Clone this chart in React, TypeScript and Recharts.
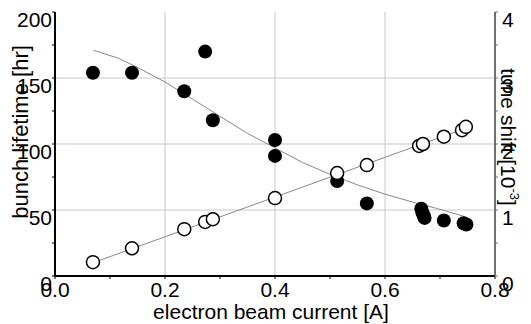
import {
  ComposedChart,
  Scatter,
  Line,
  XAxis,
  YAxis,
  ReferenceLine,
} from 'recharts';

// bunch lifetime measurements (filled circles, left axis)
const lifeCurrent = [0.069, 0.14, 0.235, 0.273, 0.287, 0.4, 0.4, 0.513, 0.567, 0.666, 0.668, 0.67, 0.672, 0.707, 0.743, 0.748];
const lifeHours = [154, 154, 140, 170, 118, 103, 91, 72, 55, 51, 48, 46, 44, 42, 40, 39];

// tune shift measurements (open circles, right axis)
const tuneCurrent = [0.069, 0.14, 0.235, 0.273, 0.287, 0.4, 0.513, 0.567, 0.662, 0.669, 0.707, 0.74, 0.747];
const tuneShift = [0.21, 0.42, 0.71, 0.82, 0.86, 1.18, 1.56, 1.68, 1.97, 2.0, 2.11, 2.21, 2.26];

// fitted curves
const fitLifeCurrent = [0.07, 0.115, 0.15, 0.2, 0.25, 0.3, 0.35, 0.4, 0.45, 0.5, 0.55, 0.6, 0.65, 0.7, 0.745];
const fitLifeHours = [171, 165, 158, 147, 134, 121, 108, 97, 86, 77, 69, 62, 56, 50.5, 45];
const fitTuneCurrent = [0.069, 0.75];
const fitTuneShift = [0.2, 2.25];

const xTicks = [0, 0.1, 0.2, 0.3, 0.4, 0.5, 0.6, 0.7, 0.8];
const xLabels = ['0.0', '', '0.2', '', '0.4', '', '0.6', '', '0.8'];
const lifeTicks = [0, 25, 50, 75, 100, 125, 150, 175, 200];
const lifeLabels = ['0', '', '50', '', '100', '', '150', '', '200'];
const tuneTicks = [0, 0.5, 1, 1.5, 2, 2.5, 3, 3.5, 4];
const tuneLabels = ['0', '', '1', '', '2', '', '3', '', '4'];
const gridX = [0.2, 0.4, 0.6];
const gridY = [50, 100, 150];

const FONT = '"Liberation Sans", Arial, sans-serif';

const zip = (xs: number[], ys: number[]) => xs.map((x, i) => ({ x, y: ys[i] }));

const lifeData = zip(lifeCurrent, lifeHours);
const tuneData = zip(tuneCurrent, tuneShift);
const fitLife = zip(fitLifeCurrent, fitLifeHours);
const fitTune = zip(fitTuneCurrent, fitTuneShift);

const XTick = ({ x, y, index }: any) => {
  const label = xLabels[index];
  if (!label) return <g />;
  return (
    <text x={x} y={y} dy={18} textAnchor="middle" fontSize={21} fontFamily={FONT} fill="#000">
      {label}
    </text>
  );
};

const LeftTick = ({ x, y, index }: any) => {
  const label = lifeLabels[index];
  if (!label) return <g />;
  return (
    <text x={x} y={y} dy={15} textAnchor="end" fontSize={21} fontFamily={FONT} fill="#000">
      {label}
    </text>
  );
};

const RightTick = ({ x, y, index }: any) => {
  const label = tuneLabels[index];
  if (!label) return <g />;
  return (
    <text x={x} y={y} dy={15} textAnchor="start" fontSize={21} fontFamily={FONT} fill="#000">
      {label}
    </text>
  );
};

const FilledDot = ({ cx, cy }: any) => <circle cx={cx} cy={cy} r={7} fill="#000" />;
const OpenDot = ({ cx, cy }: any) => (
  <circle cx={cx} cy={cy} r={6.5} fill="#fff" stroke="#000" strokeWidth={1.5} />
);

export default function App() {
  return (
    <div style={{ position: 'absolute', left: 0, top: 0, width: 531, height: 324, background: '#fff' }}>
      <ComposedChart width={531} height={324} margin={{ top: 12, right: 0, bottom: 0, left: 0 }}>
        <XAxis
          xAxisId="top"
          orientation="top"
          type="number"
          dataKey="x"
          domain={[0, 0.8]}
          ticks={xTicks}
          height={0}
          tick={() => <g />}
          tickSize={2}
          axisLine={{ stroke: '#707070', strokeWidth: 2 }}
          tickLine={{ stroke: '#707070' }}
        />
        <XAxis
          type="number"
          dataKey="x"
          domain={[0, 0.8]}
          ticks={xTicks}
          height={48}
          tick={<XTick />}
          tickSize={3}
          tickMargin={0}
          interval={0}
          axisLine={{ stroke: '#000', strokeWidth: 2 }}
          tickLine={{ stroke: '#000' }}
        />
        <YAxis
          yAxisId="L"
          dataKey="y"
          type="number"
          domain={[0, 200]}
          ticks={lifeTicks}
          width={55}
          tick={<LeftTick />}
          tickSize={3}
          tickMargin={0}
          interval={0}
          axisLine={{ stroke: '#000', strokeWidth: 2 }}
          tickLine={{ stroke: '#000' }}
        />
        <YAxis
          yAxisId="R"
          orientation="right"
          dataKey="y"
          type="number"
          domain={[0, 4]}
          ticks={tuneTicks}
          width={36}
          tick={<RightTick />}
          tickSize={3}
          tickMargin={4}
          interval={0}
          axisLine={{ stroke: '#707070', strokeWidth: 2 }}
          tickLine={{ stroke: '#707070' }}
        />
        {gridX.map((v) => (
          <ReferenceLine key={`gx${v}`} x={v} yAxisId="L" stroke="#c8c8c8" strokeWidth={1} />
        ))}
        {gridY.map((v) => (
          <ReferenceLine key={`gy${v}`} y={v} yAxisId="L" stroke="#c8c8c8" strokeWidth={1} />
        ))}
        <Line
          data={fitLife}
          dataKey="y"
          yAxisId="L"
          type="linear"
          dot={false}
          stroke="#888"
          strokeWidth={1}
          isAnimationActive={false}
        />
        <Line
          data={fitTune}
          dataKey="y"
          yAxisId="R"
          type="linear"
          dot={false}
          stroke="#888"
          strokeWidth={1}
          isAnimationActive={false}
        />
        <Scatter data={lifeData} dataKey="y" yAxisId="L" shape={<FilledDot />} isAnimationActive={false} />
        <Scatter data={tuneData} dataKey="y" yAxisId="R" shape={<OpenDot />} isAnimationActive={false} />
      </ComposedChart>
      <svg
        width={531}
        height={324}
        style={{ position: 'absolute', left: 0, top: 0, pointerEvents: 'none' }}
      >
        <text
          x={28}
          y={132}
          textAnchor="middle"
          fontSize={22}
          fontFamily={FONT}
          fill="#000"
          transform="rotate(-90 28 132)"
        >
          bunch lifetime [hr]
        </text>
        <text
          x={501}
          y={137}
          textAnchor="middle"
          fontSize={21}
          fontFamily={FONT}
          fill="#000"
          transform="rotate(90 501 137)"
        >
          tune shift [10
          <tspan fontSize={13} dy={-9}>-3</tspan>
          <tspan dy={9}>]</tspan>
        </text>
        <text x={271} y={319} textAnchor="middle" fontSize={21} fontFamily={FONT} fill="#000">
          electron beam current [A]
        </text>
      </svg>
    </div>
  );
}
